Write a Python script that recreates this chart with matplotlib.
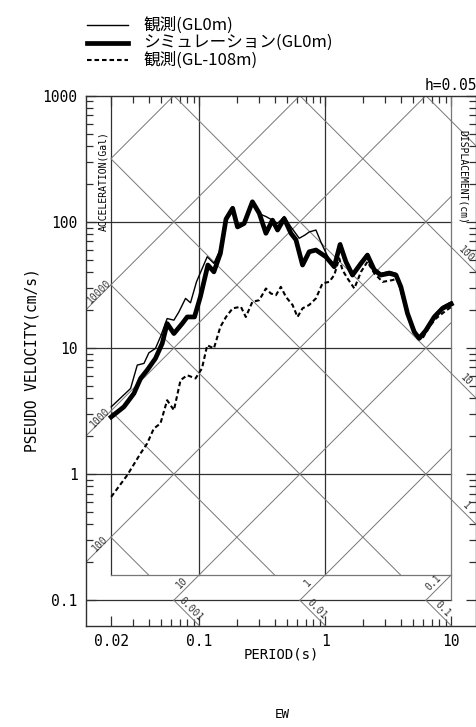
import numpy as np
import matplotlib.pyplot as plt
from matplotlib.lines import Line2D
from matplotlib.ticker import FixedLocator, FixedFormatter, NullFormatter

# ==========================================
# DATA (h=0.05, EW)
# ==========================================
period_obs0 = [0.020, 0.0285, 0.0322, 0.0364, 0.0398, 0.0449, 0.0492, 0.0556, 0.0629,
               0.0689, 0.0778, 0.0852, 0.095, 0.1156, 0.1306, 0.152, 0.166, 0.184,
               0.201, 0.227, 0.264, 0.299, 0.317, 0.338, 0.381, 0.418, 0.472, 0.534,
               0.621, 0.69, 0.745, 0.843, 0.923, 1.074, 1.178, 1.33, 1.458, 1.644,
               1.92, 2.16, 2.45, 2.76, 3.22, 3.64, 3.98, 4.49, 5.08, 5.56, 6.29,
               7.32, 8.52, 9.63, 10.0]
psv_obs0 = [3.41, 4.77, 7.31, 7.54, 9.14, 9.91, 12.25, 17.1, 16.6,
            19.3, 24.7, 22.8, 33.4, 52.8, 46.8, 65.3, 112, 130,
            92, 98, 145, 117, 113, 110, 103, 97, 110, 91,
            74, 78.5, 83, 86, 69, 50, 46, 68, 49, 39,
            48, 56, 43, 39, 40.5, 39, 31.5, 19.5, 13.8, 12.3, 14.2,
            18.2, 21.3, 22.8, 23.2]

period_sim = [0.020, 0.0252, 0.0303, 0.0342, 0.0386, 0.0449, 0.0508, 0.0556, 0.0629,
              0.0732, 0.0802, 0.0916, 0.102, 0.117, 0.1306, 0.147, 0.163, 0.184,
              0.201, 0.227, 0.264, 0.299, 0.338, 0.381, 0.418, 0.472, 0.534, 0.585,
              0.66, 0.745, 0.843, 1.01, 1.178, 1.31, 1.458, 1.644, 1.92, 2.16,
              2.45, 2.76, 3.22, 3.64, 3.98, 4.49, 5.08, 5.56, 6.29, 7.32, 8.52,
              9.63, 10.0]
psv_sim = [2.84, 3.41, 4.36, 5.73, 6.67, 8.26, 10.85, 15.6, 13.0,
           15.6, 17.6, 17.6, 25.4, 45.4, 40.1, 56.1, 105, 128,
           91, 97, 144, 117, 81, 103, 86, 106, 81, 72,
           45.4, 57.8, 59.7, 52.8, 44, 66, 48.2, 37.8, 46.8, 54.4,
           41.4, 37.8, 39.0, 37.8, 30.5, 18.8, 13.4, 11.9, 13.8, 17.6, 20.6,
           21.9, 22.3]

period_obs108 = [0.020, 0.0268, 0.0342, 0.0386, 0.0436, 0.0492, 0.0556, 0.0629, 0.071,
                 0.0802, 0.0933, 0.105, 0.1156, 0.1306, 0.147, 0.163, 0.184, 0.214,
                 0.234, 0.264, 0.299, 0.338, 0.370, 0.406, 0.444, 0.487, 0.55, 0.602,
                 0.66, 0.745, 0.843, 0.95, 1.074, 1.178, 1.29, 1.37, 1.50, 1.70,
                 1.92, 2.16, 2.45, 2.85, 3.42, 3.74, 4.10, 4.63, 5.24, 5.91, 6.68,
                 7.55, 8.79, 9.63, 10.0]
psv_obs108 = [0.66, 0.98, 1.46, 1.75, 2.30, 2.52, 3.85, 3.21, 5.55,
              6.08, 5.73, 6.88, 10.5, 9.91, 14.7, 17.6, 20.6, 21.2,
              17.6, 23.2, 23.9, 29.6, 27.0, 26.2, 30.5, 25.4, 21.9, 17.6,
              20.6, 21.9, 24.7, 32.5, 33.4, 37.8, 51.3, 41.4, 35.6, 29.6,
              40.1, 48.2, 39.0, 33.4, 34.5, 35.6, 25.4, 17.1, 13.0, 11.9, 14.7,
              17.1, 19.3, 20.6, 21.1]

labels = ['観測(GL0m)', 'シミュレーション(GL0m)', '観測(GL-108m)']

x_major = [0.02, 0.1, 1, 10]
x_major_labels = ['0.02', '0.1', '1', '10']
y_major = [0.1, 1, 10, 100, 1000]
y_major_labels = ['0.1', '1', '10', '100', '1000']

# tripartite grid values
acc_lines = [0.1, 1, 10, 100, 1000, 10000, 100000]      # Gal
disp_lines = [0.001, 0.01, 0.1, 1, 10, 100, 1000]       # cm
acc_left = [100, 1000, 10000]
bottom_pairs = [(10, 0.001), (1, 0.01), (0.1, 0.1)]
disp_right = [1, 10, 100, 1000]

# ==========================================
# LAYOUT
# ==========================================
TWO_PI = 2 * np.pi
T_MIN, T_MAX = 0.02, 10.0
V_MIN, V_MAX = 1 / TWO_PI, 1000.0
MARGIN = 10 ** 0.2

MONO = 'DejaVu Sans Mono'
JP = ['Noto Sans CJK JP', 'DejaVu Sans']
GRID_C = '#303030'
DIAG_C = '#777777'

fig = plt.figure(figsize=(4.77, 7.27), dpi=100)
ax = fig.add_axes([86 / 477, 101.5 / 727, 390.5 / 477, 529.9 / 727])
ax.set_xscale('log')
ax.set_yscale('log')
ax.set_xlim(T_MIN / MARGIN, T_MAX * MARGIN)
ax.set_ylim(0.1 / MARGIN, V_MAX)

# orthogonal grid
for v in [0.1, 1, 10, 100]:
    ax.plot([T_MIN / MARGIN, T_MAX], [v, v], color=GRID_C, lw=0.9)
for t in [0.02, 0.1, 1]:
    ax.plot([t, t], [V_MIN, V_MAX], color=GRID_C, lw=0.9)
ax.plot([T_MAX, T_MAX], [0.1, V_MAX], color=DIAG_C, lw=0.9)
ax.plot([T_MIN, T_MAX], [V_MIN, V_MIN], color=DIAG_C, lw=0.9)

# constant acceleration / displacement lines
for sa in acc_lines:
    t0 = max(T_MIN, TWO_PI * V_MIN / sa)
    t1 = min(T_MAX, TWO_PI * V_MAX / sa)
    if t0 < t1:
        ax.plot([t0, t1], [sa * t0 / TWO_PI, sa * t1 / TWO_PI], color=DIAG_C, lw=0.7)
for sd in disp_lines:
    t0 = max(T_MIN, TWO_PI * sd / V_MAX)
    t1 = min(T_MAX, TWO_PI * sd / V_MIN)
    if t0 < t1:
        ax.plot([t0, t1], [TWO_PI * sd / t0, TWO_PI * sd / t1], color=DIAG_C, lw=0.7)


def fmt(v):
    return ('%g' % v)


def seg_label(t0, t1, v0, v1, text, rot, off):
    ax.plot([t0, t1], [v0, v1], color=DIAG_C, lw=0.7)
    if text:
        tm, vm = np.sqrt(t0 * t1), np.sqrt(v0 * v1)
        ax.annotate(text, (tm, vm), xytext=off, textcoords='offset pixels',
                    ha='center', va='center', rotation=rot, fontsize=7,
                    family=MONO, color='#333333')


# label ticks on the left (acceleration)
for sa in acc_left:
    t0, t1 = T_MIN / MARGIN, T_MIN
    seg_label(t0, t1, sa * t0 / TWO_PI, sa * t1 / TWO_PI, fmt(sa), 45, (1, 6))

# bottom: acceleration then displacement
for sa, sd in bottom_pairs:
    tc = TWO_PI * V_MIN / sa
    tm = TWO_PI * 0.1 / sa
    seg_label(tm, tc, 0.1, V_MIN, fmt(sa), 45, (-5, 5))
    seg_label(tm, tc, TWO_PI * sd / tm, TWO_PI * sd / tc, fmt(sd), -45, (4, 4))

# right (displacement)
for sd in disp_right:
    t0, t1 = T_MAX, T_MAX * MARGIN
    txt = fmt(sd) if sd < 1000 else ''
    seg_label(t0, t1, TWO_PI * sd / t0, TWO_PI * sd / t1, txt, -45, (2, 6))

# spectra
styles = [dict(color='black', lw=1.0),
          dict(color='black', lw=3.4),
          dict(color='black', lw=1.5, linestyle=(0, (2.2, 1.4)))]
ax.plot(period_obs0, psv_obs0, **styles[0])
ax.plot(period_sim, psv_sim, **styles[1])
ax.plot(period_obs108, psv_obs108, **styles[2])

# ticks
x_minor = [k * 10.0 ** e for e in (-2, -1, 0) for k in range(2, 10)]
x_minor = [v for v in x_minor if v > 0.021]
y_minor = [k * 10.0 ** e for e in (-1, 0, 1, 2) for k in range(2, 10)]
ax.xaxis.set_major_locator(FixedLocator(x_major))
ax.xaxis.set_major_formatter(FixedFormatter(x_major_labels))
ax.xaxis.set_minor_locator(FixedLocator(x_minor))
ax.xaxis.set_minor_formatter(NullFormatter())
ax.yaxis.set_major_locator(FixedLocator(y_major))
ax.yaxis.set_major_formatter(FixedFormatter(y_major_labels))
ax.yaxis.set_minor_locator(FixedLocator(y_minor))
ax.yaxis.set_minor_formatter(NullFormatter())
ax.tick_params(which='both', direction='in', top=True, right=True, width=0.9, color=GRID_C)
ax.tick_params(which='major', length=7, labelsize=10.5, pad=6)
ax.tick_params(which='minor', length=5)
for lab in ax.get_xticklabels() + ax.get_yticklabels():
    lab.set_family(MONO)
for s in ax.spines.values():
    s.set_linewidth(1.0)
    s.set_color(GRID_C)

ax.set_xlabel('PERIOD(s)', family=MONO, fontsize=10)
ax.xaxis.set_label_coords(0.5, -0.042)
ax.set_ylabel('PSEUDO VELOCITY(cm/s)', family=MONO, fontsize=10.5)
ax.yaxis.set_label_coords(-0.118, 0.5)

ax.text(0.0443, 0.838, 'ACCELERATION(Gal)', transform=ax.transAxes, rotation=90,
        ha='center', va='center', fontsize=7, family=MONO)
ax.text(0.965, 0.846, 'DISPLACEMENT(cm)', transform=ax.transAxes, rotation=-90,
        ha='center', va='center', fontsize=7, family=MONO)

fig.text(1.0, 1 - 86 / 727, 'h=0.05', ha='right', va='center', fontsize=10.5, family=MONO)
fig.text(282 / 477, 1 - 715 / 727, 'EW', ha='center', va='center', fontsize=9, family=MONO)

# legend, drawn by hand so the rows sit as tight as in the reference
for i, (lab, st) in enumerate(zip(labels, styles)):
    yf = 1 - (25 + 17.5 * i) / 727
    fig.add_artist(Line2D([87 / 477, 128 / 477], [yf, yf], transform=fig.transFigure, **st))
    fig.text(143 / 477, yf, lab, ha='left', va='center', fontsize=12, family=JP)

fig.savefig('out.png', dpi=100)
